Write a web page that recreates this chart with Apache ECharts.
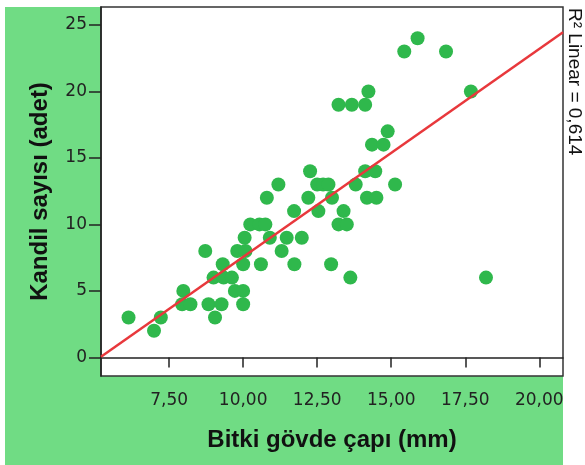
<!DOCTYPE html>
<html>
<head>
<meta charset="utf-8">
<script src="https://cdn.jsdelivr.net/npm/echarts@6/dist/echarts.min.js"></script>
<style>
  html, body { margin: 0; padding: 0; background: #fff; }
  #chart { width: 585px; height: 465px; }
</style>
</head>
<body>
<div id="chart"></div>
<script>
// stem diameter (mm) vs number of pods
const stemDiameter = [
  6.99,
  6.13, 7.22, 9.05,
  7.94, 8.22, 8.83, 9.27, 10.0,
  7.98, 9.72, 10.0,
  9.0, 9.34, 9.62, 13.62, 18.2,
  9.31, 10.0, 10.6, 11.73, 12.97,
  8.72, 9.8, 10.08, 11.3,
  10.05, 10.9, 11.47, 11.98,
  10.24, 10.55, 10.75, 13.22, 13.5,
  11.72, 12.54, 13.39,
  10.8, 12.2, 13.0, 14.18, 14.5,
  11.19, 12.5, 12.7, 12.88, 13.8, 15.13,
  12.26, 14.12, 14.46,
  14.35, 14.74,
  14.88,
  13.22, 13.67, 14.12,
  14.23, 17.69,
  15.44, 16.85,
  15.89
];
const podCount = [
  2,
  3, 3, 3,
  4, 4, 4, 4, 4,
  5, 5, 5,
  6, 6, 6, 6, 6,
  7, 7, 7, 7, 7,
  8, 8, 8, 8,
  9, 9, 9, 9,
  10, 10, 10, 10, 10,
  11, 11, 11,
  12, 12, 12, 12, 12,
  13, 13, 13, 13, 13, 13,
  14, 14, 14,
  16, 16,
  17,
  19, 19, 19,
  20, 20,
  23, 23,
  24
];
// fit line ends
const fitX = [5.2, 20.8];
const fitY = [0.05, 24.45];
const xTicks = [7.5, 10, 12.5, 15, 17.5, 20];
const yTicks = [0, 5, 10, 15, 20, 25];

const fmt = v => v.toFixed(2).replace('.', ',');

const chart = echarts.init(document.getElementById('chart'));
const option = {
  animation: false,
  backgroundColor: '#ffffff',
  textStyle: { fontFamily: 'DejaVu Sans' },
  graphic: [
    {
      type: 'rect',
      z: -10,
      shape: { x: 5, y: 7, width: 558, height: 458 },
      style: { fill: '#70dc84' }
    },
    {
      type: 'text',
      x: 574,
      y: 8,
      rotation: -Math.PI / 2,
      style: {
        text: 'R² Linear = 0,614',
        fill: '#111',
        font: '19px "Liberation Sans"',
        textAlign: 'left',
        textVerticalAlign: 'middle'
      }
    }
  ],
  grid: {
    left: 101, top: 7, right: 22, bottom: 89,
    show: true,
    backgroundColor: '#ffffff',
    borderColor: '#333',
    borderWidth: 1.5
  },
  xAxis: {
    type: 'value',
    min: 5.2,
    max: 20.8,
    name: 'Bitki gövde çapı (mm)',
    nameLocation: 'middle',
    nameGap: 52,
    nameTextStyle: { fontSize: 24, fontWeight: 'bold', color: '#111', fontFamily: 'Liberation Sans' },
    axisLine: { lineStyle: { color: '#222', width: 1.5 } },
    axisTick: { length: 10, lineStyle: { color: '#222', width: 1.5 }, customValues: xTicks },
    axisLabel: { customValues: xTicks, formatter: fmt, fontSize: 17, color: '#222', margin: 16 },
    splitLine: { show: false }
  },
  yAxis: {
    type: 'value',
    min: -1.4,
    max: 26.35,
    name: 'Kandil sayısı (adet)',
    nameLocation: 'middle',
    nameGap: 49,
    nameTextStyle: { fontSize: 24, fontWeight: 'bold', color: '#111', fontFamily: 'Liberation Sans' },
    axisLine: { show: true, lineStyle: { color: '#222', width: 1.5 } },
    axisTick: { show: true, length: 12, lineStyle: { color: '#222', width: 1.5 }, customValues: yTicks },
    axisLabel: { customValues: yTicks, fontSize: 17, color: '#222', margin: 14 },
    splitLine: { show: false }
  },
  series: [
    {
      type: 'scatter',
      symbolSize: 14,
      itemStyle: { color: '#2fb84c', opacity: 1 },
      data: stemDiameter.map((x, i) => [x, podCount[i]])
    },
    {
      type: 'line',
      symbol: 'none',
      lineStyle: { color: '#e8383c', width: 2.5 },
      data: fitX.map((x, i) => [x, fitY[i]]),
      z: 3
    }
  ]
};
chart.setOption(option);
</script>
</body>
</html>
